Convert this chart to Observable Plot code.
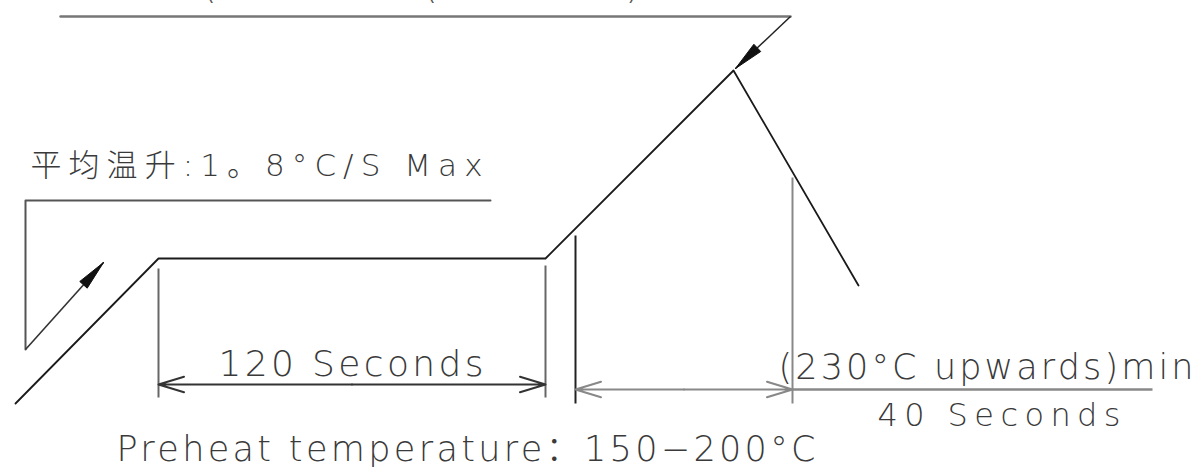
<!DOCTYPE html>
<html><head><meta charset="utf-8">
<script src="https://cdn.jsdelivr.net/npm/d3@7"></script>
<script src="https://cdn.jsdelivr.net/npm/@observablehq/plot@0.6"></script>
<style>body{margin:0;background:#fff;overflow:hidden}</style>
</head><body><div id="chart"></div>
<script>
// ---- drawing data (schematic units: x to the right, y downward) ----
const profileX = [15, 158, 545, 733, 858];
const profileY = [403, 258, 258, 70, 285];

const rateFrameX = [490, 25, 25];
const rateFrameY = [200, 200, 349];
const rateArrow = {x1: 25, y1: 349, x2: 103, y2: 262};

const peakLineX = [60, 790];
const peakLineY = [16, 16];
const peakArrow = {x1: 790, y1: 16, x2: 735, y2: 68};

const extX = [158, 545, 575, 792];
const extTop = [268, 265, 235, 177];
const extBottom = [397, 397, 403, 403];
const extShade = ["#666", "#666", "#222", "#888"];

const dimStart = [158, 575];
const dimEnd = [545, 792];
const dimY = [384, 389];
const dimShade = ["#333", "#888"];
const tailX = [792, 1152];

const labelText = ["平均温升:1。8°C/S Max", "120 Seconds", "(230°C upwards)min", "40 Seconds", "Preheat temperature：150−200°C"];
const labelX0 = [30, 218, 778, 877, 116];
const labelX1 = [482, 483, 1193, 1120, 815];
const labelBase = [175, 375, 378, 425, 460];
const labelSize = [31, 36, 35, 32, 35];

const topMarks = ["(", "(", ")"];
const topMarkX = [202, 423, 625];

// ---- build ----
const W = 1199, H = 467;
const pts = (xs, ys) => xs.map((x, i) => ({x, y: ys[i]}));
function head(a, len, hw) {
  const dx = a.x2 - a.x1, dy = a.y2 - a.y1, L = Math.hypot(dx, dy);
  const ux = dx / L, uy = dy / L, bx = a.x2 - ux * len, by = a.y2 - uy * len;
  return [{x: a.x2, y: a.y2}, {x: bx - uy * hw, y: by + ux * hw}, {x: bx + uy * hw, y: by - ux * hw}, {x: a.x2, y: a.y2}];
}
const exts = extX.map((x, i) => ({x, y1: extTop[i], y2: extBottom[i], c: extShade[i]}));
const dims = dimStart.map((s, i) => ({s, e: dimEnd[i], m: (s + dimEnd[i]) / 2, y: dimY[i], c: dimShade[i]}));
const labels = labelText.map((t, i) => ({t, x: labelX0[i], w: labelX1[i] - labelX0[i], y: labelBase[i], s: labelSize[i]}));
const tops = topMarks.map((t, i) => ({t, x: topMarkX[i]}));
const FONT = "'DejaVu Sans', 'Noto Sans CJK SC', sans-serif";

const plot = Plot.plot({
  width: W, height: H,
  margin: 0,
  x: {domain: [0, W], range: [0, W], axis: null},
  y: {domain: [0, H], range: [0, H], axis: null},
  style: {background: "#fff"},
  marks: [
    Plot.line(pts(peakLineX, peakLineY), {x: "x", y: "y", stroke: "#777", strokeWidth: 2.5}),
    Plot.link([peakArrow], {x1: "x1", y1: "y1", x2: "x2", y2: "y2", stroke: "#222", strokeWidth: 1.5}),
    Plot.line(head(peakArrow, 30, 5), {x: "x", y: "y", fill: "#111", stroke: "#111", strokeWidth: 1}),
    Plot.line(pts(rateFrameX, rateFrameY), {x: "x", y: "y", stroke: "#555", strokeWidth: 2}),
    Plot.link([rateArrow], {x1: "x1", y1: "y1", x2: "x2", y2: "y2", stroke: "#333", strokeWidth: 1.6}),
    Plot.line(head(rateArrow, 30, 5), {x: "x", y: "y", fill: "#111", stroke: "#111", strokeWidth: 1}),
    Plot.link(exts, {x1: "x", x2: "x", y1: "y1", y2: "y2", stroke: "c", strokeWidth: 2}),
    Plot.link([{x1: tailX[0], x2: tailX[1], y: dimY[1]}], {x1: "x1", x2: "x2", y1: "y", y2: "y", stroke: "#888", strokeWidth: 2.5}),
    Plot.arrow(dims, {x1: "m", x2: "s", y1: "y", y2: "y", stroke: "c", strokeWidth: 2, headLength: 20, headAngle: 34}),
    Plot.arrow(dims, {x1: "m", x2: "e", y1: "y", y2: "y", stroke: "c", strokeWidth: 2, headLength: 20, headAngle: 34}),
    Plot.line(pts(profileX, profileY), {x: "x", y: "y", stroke: "#1a1a1a", strokeWidth: 1.8}),
    Plot.text(labels, {x: "x", y: "y", text: "t", fontSize: "s", textAnchor: "start", lineAnchor: "bottom",
      fill: "#3a3a3a", fontFamily: FONT, fontWeight: 200}),
    Plot.text(tops, {x: "x", y: () => -3, text: "t", fontSize: 36, textAnchor: "start", lineAnchor: "bottom",
      fill: "#555", fontFamily: FONT, fontWeight: 200})
  ]
});
document.getElementById("chart").appendChild(plot);
const textGroups = plot.querySelectorAll('g[aria-label="text"]');
const xs = plot.scale("x");
textGroups[0].querySelectorAll("text").forEach((el, i) => {
  const d = labels[i];
  el.setAttribute("textLength", xs.apply(d.x + d.w) - xs.apply(d.x));
  el.setAttribute("lengthAdjust", "spacing");
});
</script></body></html>
